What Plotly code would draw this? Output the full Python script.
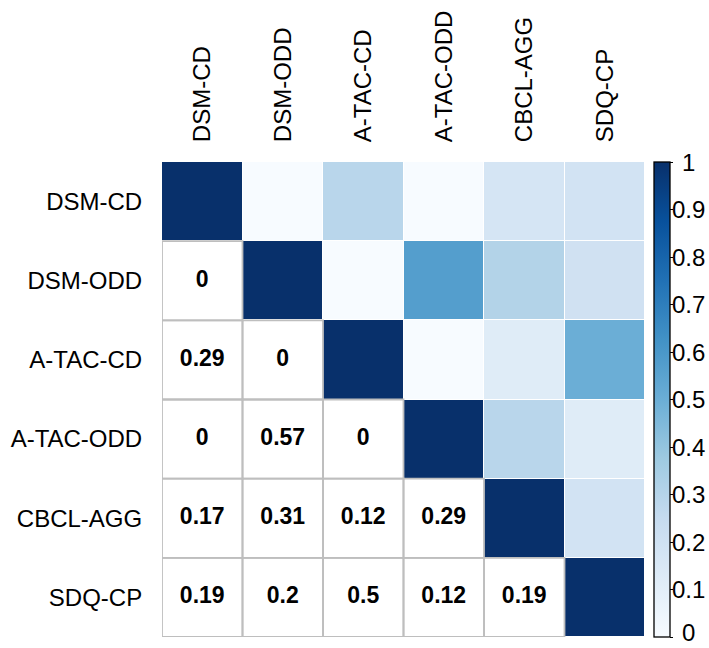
import plotly.graph_objects as go

labels = ["DSM-CD", "DSM-ODD", "A-TAC-CD", "A-TAC-ODD", "CBCL-AGG", "SDQ-CP"]

# lower-triangle correlations (row i, columns 0..i-1)
lower_rows = [
    [],
    [0],
    [0.29, 0],
    [0, 0.57, 0],
    [0.17, 0.31, 0.12, 0.29],
    [0.19, 0.2, 0.5, 0.12, 0.19],
]

cbar_ticks = [0, 0.1, 0.2, 0.3, 0.4, 0.5, 0.6, 0.7, 0.8, 0.9, 1]
cbar_text = ["0", "0.1", "0.2", "0.3", "0.4", "0.5", "0.6", "0.7", "0.8", "0.9", "1"]

blues = ["#F7FBFF", "#DEEBF7", "#C6DBEF", "#9ECAE1", "#6BAED6",
         "#4292C6", "#2171B5", "#08519C", "#08306B"]
colorscale = [[i / (len(blues) - 1), c] for i, c in enumerate(blues)]

n = len(labels)
M = [[1.0 if i == j else None for j in range(n)] for i in range(n)]
for i, row in enumerate(lower_rows):
    for j, v in enumerate(row):
        M[i][j] = v
        M[j][i] = v

Z = [[M[i][j] if j >= i else None for j in range(n)] for i in range(n)]

FONT = "Liberation Sans, Arial, sans-serif"
W, H = 709, 648
ML, MR, MT, MB = 150, 64, 142, 11
plot_w = W - ML - MR

fig = go.Figure()
fig.add_trace(go.Heatmap(
    z=Z, x=labels, y=labels, zmin=0, zmax=1,
    colorscale=colorscale, xgap=1, ygap=1, hoverongaps=False,
    colorbar=dict(
        x=(654 - ML) / plot_w, xanchor="left", xpad=0, y=0, yanchor="bottom", ypad=0,
        len=1, lenmode="fraction", thickness=16,
        outlinecolor="black", outlinewidth=1.3,
        tickmode="array", tickvals=cbar_ticks, ticktext=cbar_text,
        ticks="outside", ticklen=3, tickcolor="black", tickwidth=1.3,
        showticklabels=False,
    ),
))

tx, ty, tt = [], [], []
for i, row in enumerate(lower_rows):
    for j, v in enumerate(row):
        tx.append(labels[j]); ty.append(labels[i]); tt.append(f"{v:g}")
fig.add_trace(go.Scatter(
    x=tx, y=ty, text=tt, mode="text", hoverinfo="skip",
    textfont=dict(family=FONT, size=23, color="black", weight="bold"),
    textposition="middle center", showlegend=False,
))

shapes = []
for i, row in enumerate(lower_rows):
    for j, v in enumerate(row):
        shapes.append(dict(type="rect", xref="x", yref="y",
                           x0=j - 0.5, x1=j + 0.5, y0=i - 0.5, y1=i + 0.5,
                           line=dict(color="#BEBEBE", width=1.8),
                           fillcolor="rgba(0,0,0,0)", layer="above"))

# colorbar tick labels, centred like the original
annotations = [dict(xref="paper", yref="paper", x=(690 - ML) / plot_w, y=v,
                    text=t, showarrow=False, xanchor="center", yanchor="middle",
                    yshift=(5 if v == 0 else 0),
                    font=dict(family=FONT, size=24, color="black"))
               for v, t in zip(cbar_ticks, cbar_text)]

fig.update_layout(
    width=W, height=H,
    margin=dict(l=ML, r=MR, t=MT, b=MB),
    paper_bgcolor="white", plot_bgcolor="white",
    shapes=shapes, annotations=annotations, showlegend=False,
    font=dict(family=FONT, size=24, color="black"),
    xaxis=dict(side="top", tickangle=-90, showgrid=False, zeroline=False,
               ticks="outside", ticklen=14, tickcolor="rgba(0,0,0,0)",
               range=[-0.5, n - 0.5],
               tickfont=dict(family=FONT, size=24, color="black")),
    yaxis=dict(autorange=False, range=[n - 0.5, -0.5], showgrid=False, zeroline=False,
               ticks="outside", ticklen=14, tickcolor="rgba(0,0,0,0)",
               tickfont=dict(family=FONT, size=24, color="black")),
)

fig.write_html("out.html", config={"displayModeBar": False},
               post_script="document.body.style.margin='0';document.body.style.overflow='hidden';")
